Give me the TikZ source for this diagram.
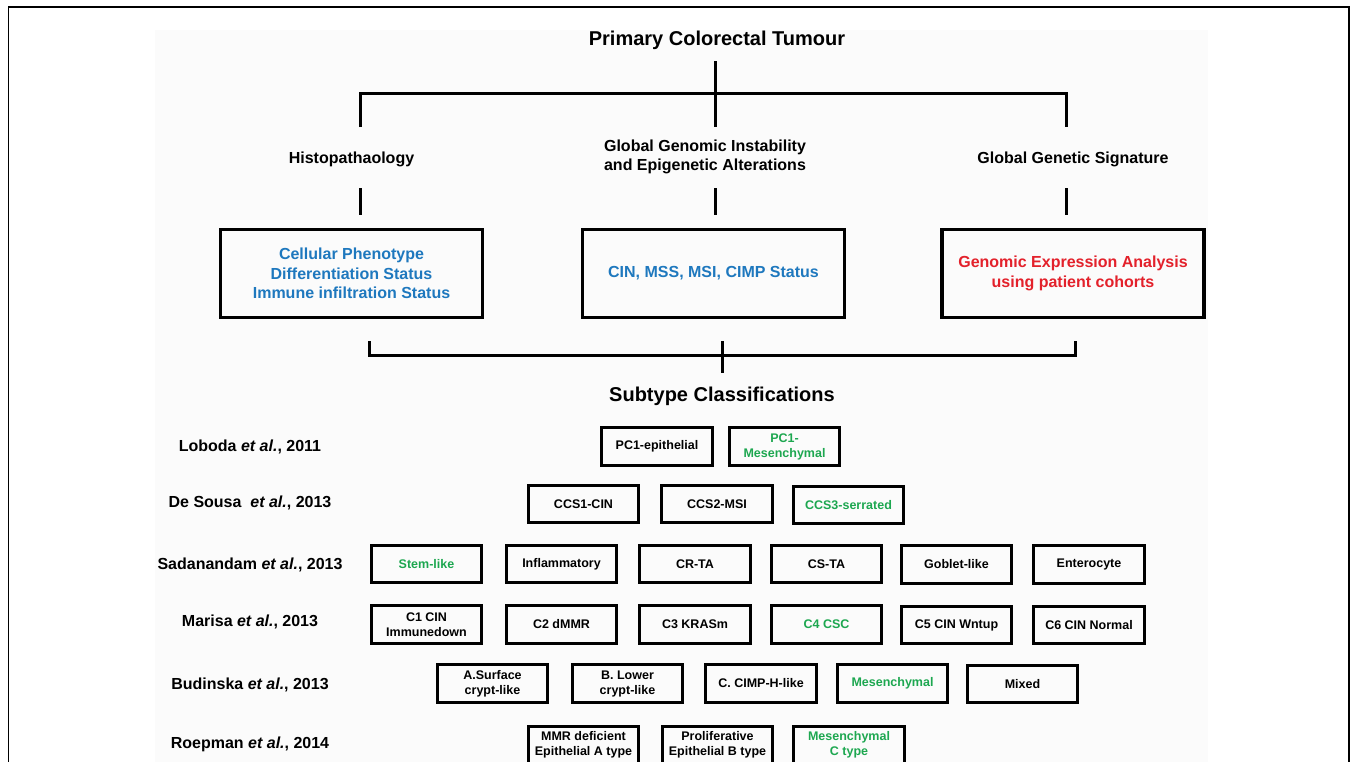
\documentclass[tikz,border=0pt]{standalone}
\usepackage{fontspec}
\setmainfont{Liberation Sans}
\definecolor{cblue}{HTML}{1E78BE}
\definecolor{cred}{HTML}{E3212B}
\definecolor{cgreen}{HTML}{1DA750}
\begin{document}
\begin{tikzpicture}[x=1pt,y=-1pt,
 tline/.style={line width=3pt},
 bigbox/.style={draw,line width=3.2pt,minimum width=262pt,minimum height=88pt,align=center,
   font=\fontsize{16}{19.5}\selectfont\bfseries,inner sep=0pt},
 sbox/.style={draw,line width=2.8pt,minimum width=110.5pt,minimum height=37.5pt,align=center,
   font=\fontsize{12.5}{15}\selectfont\bfseries,inner sep=0pt},
 grn/.style={text=cgreen},
 lbl/.style={align=center,font=\fontsize{16}{19}\selectfont\bfseries},
 ttl/.style={font=\fontsize{20}{24}\selectfont\bfseries,anchor=base},
 refl/.style={font=\fontsize{16}{19}\selectfont\bfseries,anchor=base}]
\useasboundingbox (0,0) rectangle (1356,761);
\fill[black!1.5] (155,30) rectangle (1208,775);
\draw[line width=1.2pt] (8.3,775) -- (8.3,7) -- (1349,7) -- (1349,775);

% title
\node[ttl] (title) at (717,45.7) {Primary Colorectal Tumour};

% tree coordinates
\coordinate (t0) at (715,61);
\coordinate (t1) at (715,127);
\coordinate (hA) at (360,93);
\coordinate (hC) at (1066,93);
\coordinate (a0) at (360,127);
\coordinate (c0) at (1066,127);
\draw[tline] (t0) -- (t1);
\draw[tline] (a0) -- (hA) -- (hC) -- (c0);

% category labels
\node[lbl,anchor=base] (histo) at (351.5,163) {Histopathaology};
\node[lbl] (genom) at (705,157) {Global Genomic Instability\\and Epigenetic Alterations};
\node[lbl,anchor=base] (genet) at (1073,163) {Global Genetic Signature};

\coordinate (sa0) at (360,188);  \coordinate (sa1) at (360,215);
\coordinate (sb0) at (715,188);  \coordinate (sb1) at (715,215);
\coordinate (sc0) at (1066,188); \coordinate (sc1) at (1066,215);
\draw[tline] (sa0) -- (sa1);
\draw[tline] (sb0) -- (sb1);
\draw[tline] (sc0) -- (sc1);

% big boxes
\node[bigbox,text=cblue] (boxA) at (351.5,273.5) {Cellular Phenotype\\Differentiation Status\\Immune infiltration Status};
\node[bigbox,text=cblue] (boxB) at (713.5,273.5) {CIN, MSS, MSI, CIMP Status};
\node[bigbox,text=cred] (boxC) at (1073,273.5) {Genomic Expression Analysis\\using patient cohorts};

% bottom bracket
\coordinate (bl0) at (369,341);
\coordinate (bl1) at (369,355);
\coordinate (br1) at (1075,355);
\coordinate (br0) at (1075,341);
\coordinate (bm0) at (722,341);
\coordinate (bm1) at (722,373);
\draw[tline] (bl0) -- (bl1) -- (br1) -- (br0);
\draw[tline] (bm0) -- (bm1);

\node[ttl] (subt) at (722,401) {Subtype Classifications};

% row labels
\node[refl] (r1) at (250,451.5) {Loboda \textit{et al.}, 2011};
\node[refl] (r2) at (250,507.7) {De Sousa\ \ \textit{et al.}, 2013};
\node[refl] (r3) at (250,569.5) {Sadanandam \textit{et al.}, 2013};
\node[refl] (r4) at (250,626.7) {Marisa \textit{et al.}, 2013};
\node[refl] (r5) at (250,689.3) {Budinska \textit{et al.}, 2013};
\node[refl] (r6) at (250,748.3) {Roepman \textit{et al.}, 2014};

% row 1
\node[sbox] (l1) at (657,446.5) {PC1-epithelial};
\node[sbox,grn] (l2) at (784.5,446.5) {PC1-\\Mesenchymal};
% row 2
\node[sbox] (d1) at (583.5,504) {CCS1-CIN};
\node[sbox] (d2) at (717,504) {CCS2-MSI};
\node[sbox,grn] (d3) at (848.5,505) {CCS3-serrated};
% row 3
\node[sbox,grn] (s1) at (426.5,564) {Stem-like};
\node[sbox] (s2) at (561.5,564) {Inflammatory};
\node[sbox] (s3) at (695,564) {CR-TA};
\node[sbox] (s4) at (826.5,564) {CS-TA};
\node[sbox] (s5) at (956.5,564.5) {Goblet-like};
\node[sbox] (s6) at (1089,564.5) {Enterocyte};
% row 4
\node[sbox] (m1) at (426.5,624.5) {C1 CIN\\Immunedown};
\node[sbox] (m2) at (561.5,624.5) {C2 dMMR};
\node[sbox] (m3) at (695,624.5) {C3 KRASm};
\node[sbox,grn] (m4) at (826.5,624.5) {C4 CSC};
\node[sbox] (m5) at (956.5,625) {C5 CIN Wntup};
\node[sbox] (m6) at (1089,625) {C6 CIN Normal};
% row 5
\node[sbox] (b1) at (492.5,683.5) {A.Surface\\crypt-like};
\node[sbox] (b2) at (627.5,683.5) {B. Lower\\crypt-like};
\node[sbox] (b3) at (761,683.5) {C. CIMP-H-like};
\node[sbox,grn] (b4) at (892.5,683.5) {Mesenchymal};
\node[sbox] (b5) at (1022.5,684) {Mixed};
% row 6
\node[sbox] (p1) at (583.5,745) {MMR deficient\\Epithelial A type};
\node[sbox] (p2) at (717.5,745) {Proliferative\\Epithelial B type};
\node[sbox,grn] (p3) at (849,745) {Mesenchymal\\C type};
\end{tikzpicture}
\end{document}
